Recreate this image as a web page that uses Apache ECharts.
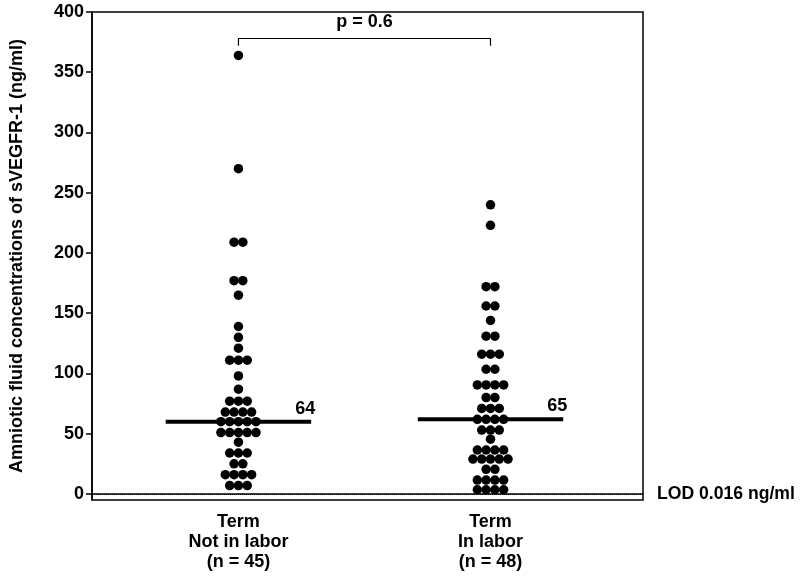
<!DOCTYPE html>
<html>
<head>
<meta charset="utf-8">
<script src="https://cdn.jsdelivr.net/npm/echarts@6/dist/echarts.min.js"></script>
<style>
  html, body { margin: 0; padding: 0; background: #fff; }
  #chart { width: 800px; height: 578px; }
</style>
</head>
<body>
<div id="chart"></div>
<script>
// values, one entry per dot
const notInLabor = [364, 270, 209, 209, 177, 177, 165, 139, 130, 121, 111, 111, 111, 98, 87,
  77, 77, 77, 68, 68, 68, 68, 60, 60, 60, 60, 60, 51, 51, 51, 51, 51, 43,
  34, 34, 34, 25, 25, 16, 16, 16, 16, 7, 7, 7]
const inLabor = [240, 223, 172, 172, 156, 156, 144, 131, 131, 116, 116, 116, 103.5, 103.5,
  90.5, 90.5, 90.5, 90.5, 80, 80, 71, 71, 71, 62, 62, 62, 62, 53, 53, 53, 45.5,
  36.5, 36.5, 36.5, 36.5, 29, 29, 29, 29, 29, 20.5, 20.5, 11.5, 11.5, 11.5, 11.5,
  3.5, 3.5, 3.5, 3.5]

const groupPos = [1, 2]
const categoryLabels = ['Term\nNot in labor\n(n = 45)', 'Term\nIn labor\n(n = 48)']
const medians = [60, 62]
const medianLabels = ['64', '65']
const yTicks = [0, 50, 100, 150, 200, 250, 300, 350, 400]
const pValueText = 'p = 0.6'
const bracketLevels = [372, 378]
const lodValue = 0
const lodText = 'LOD 0.016 ng/ml'

const dotStep = 0.0348   // horizontal gap between dots in a row (x units)
const medianHalf = 0.2885

// lay the dots of equal value side by side, centred on the group
function swarm(values, center) {
  const rows = {}
  values.forEach(v => { rows[v] = (rows[v] || 0) + 1 })
  const pts = []
  Object.keys(rows).forEach(k => {
    const n = rows[k]
    for (let i = 0; i < n; i++) {
      pts.push([center + (i - (n - 1) / 2) * dotStep, Number(k)])
    }
  })
  return pts
}

const font = { fontFamily: 'Liberation Sans, Arial, sans-serif', fontWeight: 'bold', color: '#000', fontSize: 18 }

const chart = echarts.init(document.getElementById('chart'))

const medianSeries = medians.map((m, i) => ({
  type: 'line',
  silent: true,
  symbol: 'none',
  lineStyle: { color: '#000', width: 4 },
  data: [
    [groupPos[i] - medianHalf, m],
    [groupPos[i] + medianHalf, m],
  ],
  z: 3,
}))

chart.setOption({
  animation: false,
  grid: {
    left: 90,
    right: 157,
    top: 12,
    bottom: 78,
    show: true,
    borderColor: '#000',
    borderWidth: 1.5,
  },
  xAxis: {
    type: 'value',
    min: 0.419,
    max: 2.605,
    splitLine: { show: false },
    axisLine: { lineStyle: { color: '#000', width: 1.5 } },
    axisTick: { show: false },
    axisLabel: {
      customValues: groupPos,
      formatter: v => categoryLabels[groupPos.indexOf(v)],
      margin: 12,
      lineHeight: 20,
      align: 'center',
      ...font,
    },
  },
  yAxis: {
    type: 'value',
    min: -5,
    max: 400,
    name: 'Amniotic fluid concentrations of sVEGFR-1 (ng/ml)',
    nameLocation: 'middle',
    nameGap: 66,
    nameRotate: 90,
    nameTextStyle: { ...font },
    splitLine: { show: false },
    axisLine: { show: true, lineStyle: { color: '#000', width: 1.5 } },
    axisTick: { show: true, customValues: yTicks, length: 6, lineStyle: { color: '#000', width: 1.5 } },
    axisLabel: { customValues: yTicks, margin: 8, ...font },
  },
  series: [
    {
      type: 'scatter',
      symbolSize: 9.5,
      itemStyle: { color: '#000', opacity: 1 },
      data: swarm(notInLabor, groupPos[0]).concat(swarm(inLabor, groupPos[1])),
      z: 2,
      markLine: {
        silent: true,
        symbol: 'none',
        lineStyle: { color: '#000', type: 'dotted', width: 1 },
        label: { show: true, position: 'end', distance: 14, formatter: lodText, ...font, fontSize: 17.6 },
        data: [{ yAxis: lodValue }],
      },
    },
    ...medianSeries,
    {
      // median value labels at the right end of each median bar
      type: 'scatter',
      silent: true,
      symbolSize: 0,
      itemStyle: { color: '#000', opacity: 1 },
      data: medians.map((m, i) => [groupPos[i] + medianHalf, m]),
      label: {
        show: true,
        position: 'top',
        distance: 4,
        offset: [-6, 0],
        formatter: p => medianLabels[p.dataIndex],
        ...font,
      },
      z: 4,
    },
    {
      type: 'line',
      silent: true,
      symbol: 'none',
      lineStyle: { color: '#000', width: 1.2 },
      data: [
        [groupPos[0], bracketLevels[0]],
        [groupPos[0], bracketLevels[1]],
        [groupPos[1], bracketLevels[1]],
        [groupPos[1], bracketLevels[0]],
      ],
    },
    {
      type: 'scatter',
      silent: true,
      symbolSize: 0,
      itemStyle: { color: '#000', opacity: 1 },
      data: [[(groupPos[0] + groupPos[1]) / 2, bracketLevels[1]]],
      label: { show: true, position: 'top', distance: 7, formatter: pValueText, ...font },
    },
  ],
})
</script>
</body>
</html>
